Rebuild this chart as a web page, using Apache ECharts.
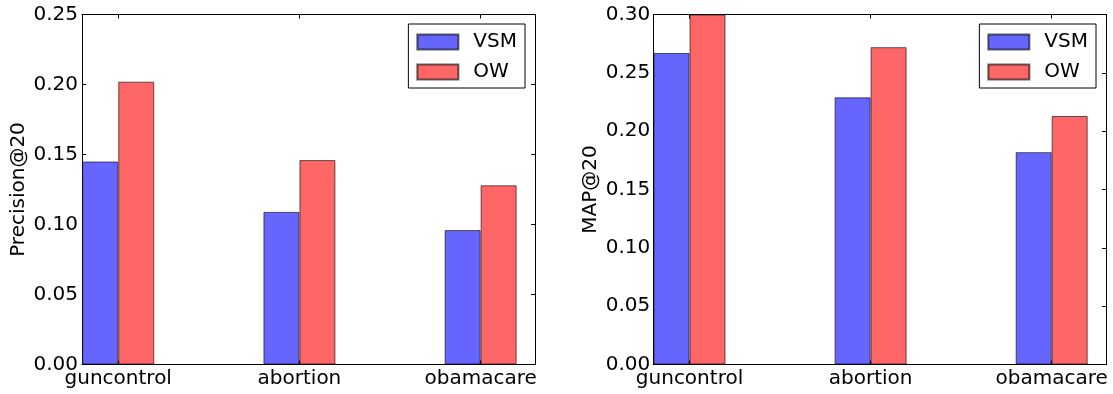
<!DOCTYPE html>
<html><head><meta charset="utf-8">
<script src="https://cdn.jsdelivr.net/npm/echarts@6/dist/echarts.min.js"></script>
<style>html,body{margin:0;padding:0;background:#fff}#c{width:1113px;height:394px}</style>
</head><body><div id="c"></div>
<script>
const categories = ['guncontrol', 'abortion', 'obamacare'];
const seriesNames = ['VSM', 'OW'];
const precisionVSM = [0.145, 0.109, 0.096];
const precisionOW = [0.202, 0.146, 0.128];
const mapVSM = [0.267, 0.229, 0.182];
const mapOW = [0.300, 0.272, 0.213];
const yTitles = ['Precision@20', 'MAP@20'];
const yMax = [0.25, 0.30];
const yStep = 0.05;

const FONT = 'DejaVu Sans';
const colors = ['#6666ff', '#ff6666'];
const catIdx = categories.map((c, i) => i);

const grids = [
  { left: 82, width: 453, top: 14.5, height: 350, outerBoundsMode: 'none', containLabel: false },
  { left: 653.3, width: 452.7, top: 14.5, height: 350, outerBoundsMode: 'none', containLabel: false }
];

const lineStyle = { color: '#000', width: 1 };
const xAxes = [], yAxes = [], series = [];
[0, 1].forEach(g => {
  const base = { type: 'value', gridIndex: g, min: -0.2, max: 2.3, splitLine: { show: false },
    axisLine: { show: true, onZero: false, lineStyle },
    axisTick: { show: true, inside: true, length: 4, customValues: catIdx, lineStyle } };
  xAxes.push(Object.assign({}, base, { position: 'bottom',
    axisLabel: { show: true, customValues: catIdx, margin: 4, color: '#000', fontFamily: FONT, fontSize: 20,
      formatter: v => categories[Math.round(v)] } }));
  xAxes.push(Object.assign({}, base, { position: 'top', axisLabel: { show: false } }));
  const ybase = { type: 'value', gridIndex: g, min: 0, max: yMax[g], interval: yStep, splitLine: { show: false },
    axisLine: { show: true, onZero: false, lineStyle },
    axisTick: { show: true, inside: true, length: 4, lineStyle } };
  yAxes.push(Object.assign({}, ybase, { position: 'left',
    name: yTitles[g], nameLocation: 'middle', nameGap: 53,
    nameTextStyle: { color: '#000', fontFamily: FONT, fontSize: 20 },
    axisLabel: { show: true, margin: g === 0 ? 4 : 3, color: '#000', fontFamily: FONT, fontSize: 20,
      formatter: v => v.toFixed(2) } }));
  yAxes.push(Object.assign({}, ybase, { position: 'right', axisLabel: { show: false } }));
});

const dataSets = [[precisionVSM, precisionOW], [mapVSM, mapOW]];
[0, 1].forEach(g => {
  seriesNames.forEach((name, s) => {
    series.push({
      type: 'bar', name, xAxisIndex: g * 2, yAxisIndex: g * 2,
      barWidth: 36, barGap: '0%',
      itemStyle: { color: colors[s], borderColor: 'rgba(0,0,0,0.6)', borderWidth: 1 },
      data: dataSets[g][s].map((v, i) => [catIdx[i], v]),
      animation: false
    });
  });
});

const legends = [0, 1].map(g => ({
  orient: 'vertical', right: g === 0 ? 588 : 17, top: 24,
  data: seriesNames, icon: 'rect', itemWidth: 41, itemHeight: 15, itemGap: 10,
  padding: [8, 8, 6, 8], borderColor: '#000', borderWidth: 1, backgroundColor: '#fff',
  selectedMode: false,
  textStyle: { fontFamily: FONT, fontSize: 20, color: '#000', padding: [0, 0, 0, 10] }
}));

const chart = echarts.init(document.getElementById('c'), null, { renderer: 'canvas' });
chart.setOption({
  animation: false,
  backgroundColor: '#fff',
  textStyle: { fontFamily: FONT },
  grid: grids, xAxis: xAxes, yAxis: yAxes, legend: legends, series
});
</script></body></html>
